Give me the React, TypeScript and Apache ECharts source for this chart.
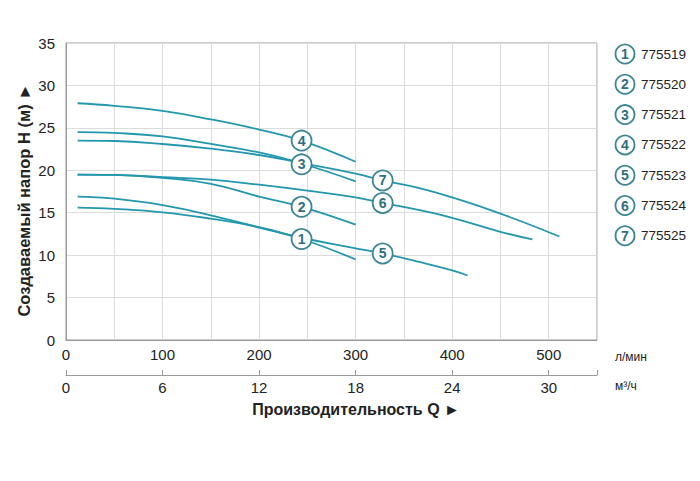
import React, { useEffect, useRef } from "react";
import * as echarts from "echarts";

// Flow Q (l/min) and head H (m) for each pump model
const models = ["775519", "775520", "775521", "775522", "775523", "775524", "775525"];
const curveIds = ["1", "2", "3", "4", "5", "6", "7"];

const q1 = [12, 50, 100, 150, 200, 244, 300];
const h1 = [16.9, 16.65, 15.9, 14.7, 13.25, 11.9, 9.5];
const q2 = [12, 50, 100, 150, 200, 244, 300];
const h2 = [19.5, 19.45, 19.1, 18.4, 16.9, 15.7, 13.6];
const q3 = [12, 50, 100, 150, 200, 244, 300];
const h3 = [24.5, 24.4, 24.0, 23.1, 22.1, 20.8, 18.7];
const q4 = [12, 50, 100, 150, 200, 244, 300];
const h4 = [27.9, 27.6, 27.0, 26.0, 24.8, 23.5, 21.0];
const q5 = [12, 50, 100, 150, 200, 244, 300, 328, 366, 400, 416];
const h5 = [15.6, 15.45, 15.05, 14.3, 13.3, 12.05, 10.8, 10.2, 9.2, 8.2, 7.6];
const q6 = [12, 50, 100, 150, 200, 250, 300, 328, 366, 400, 450, 483];
const h6 = [19.5, 19.45, 19.2, 18.9, 18.3, 17.6, 16.8, 16.15, 15.3, 14.4, 12.75, 11.85];
const q7 = [12, 50, 100, 150, 200, 244, 300, 328, 366, 400, 450, 511];
const h7 = [23.5, 23.45, 23.1, 22.55, 21.8, 20.85, 19.6, 18.8, 17.9, 16.8, 14.9, 12.2];

// curve marker positions (Q, H)
const markQ = [244, 244, 244, 244, 328, 328, 328];
const markH = [11.9, 15.7, 20.7, 23.5, 10.2, 16.15, 18.8];

const qs = [q1, q2, q3, q4, q5, q6, q7];
const hs = [h1, h2, h3, h4, h5, h6, h7];

// axis ranges
const lminMax = 550;
const m3hMax = 33;
const hMax = 35;

const LINE = "#2297ae";
const RING = "#3b8594";
const NUM = "#2e6f80";
const FONT = "Liberation Sans, Arial, sans-serif";

export default function App() {
  const ref = useRef<HTMLDivElement>(null);
  useEffect(() => {
    if (!ref.current) return;
    const chart = echarts.init(ref.current, undefined, { renderer: "svg" });
    const series: any[] = qs.map((q, i) => ({
      type: "line",
      name: models[i],
      xAxisIndex: 0,
      smooth: 0.45,
      showSymbol: false,
      symbol: "none",
      lineStyle: { color: LINE, width: 1.8 },
      data: q.map((v, j) => [v, hs[i][j]]),
      markPoint: {
        symbol: "circle",
        symbolSize: 20,
        z: 10,
        itemStyle: { color: "#fff", borderColor: RING, borderWidth: 1.8 },
        label: {
          show: true,
          position: "inside",
          formatter: curveIds[i],
          color: NUM,
          fontSize: 14,
          fontWeight: "bold",
          fontFamily: FONT,
        },
        data: [{ coord: [markQ[i], markH[i]] }],
      },
    }));

    const legend: any[] = [];
    models.forEach((m, i) => {
      const y = 54 + i * 30.3;
      legend.push({
        type: "circle",
        shape: { cx: 625, cy: y, r: 9.5 },
        style: { fill: "#fff", stroke: RING, lineWidth: 1.8 },
      });
      legend.push({
        type: "text",
        x: 625,
        y: y,
        style: {
          text: curveIds[i],
          fill: NUM,
          font: "bold 14px " + FONT,
          textAlign: "center",
          textVerticalAlign: "middle",
        },
      });
      legend.push({
        type: "text",
        x: 641,
        y: y,
        style: {
          text: m,
          fill: "#222",
          font: "13.5px " + FONT,
          textAlign: "left",
          textVerticalAlign: "middle",
        },
      });
    });

    chart.setOption({
      animation: false,
      backgroundColor: "#fff",
      textStyle: { fontFamily: FONT },
      grid: {
        left: 66,
        top: 43,
        right: 103,
        bottom: 141,
        show: true,
        borderColor: "#999",
        borderWidth: 1,
      },
      xAxis: [
        {
          type: "value",
          min: 0,
          max: lminMax,
          interval: 50,
          position: "bottom",
          axisLine: { show: true, lineStyle: { color: "#999" } },
          axisTick: { show: false },
          splitLine: { show: true, lineStyle: { color: "#dcdcdc" } },
          axisLabel: {
            fontSize: 15,
            color: "#222",
            margin: 7,
            formatter: (v: number) => (v % 100 === 0 ? String(v) : ""),
          },
        },
        {
          type: "value",
          min: 0,
          max: m3hMax,
          interval: 6,
          position: "bottom",
          offset: 35,
          axisLine: { show: true, lineStyle: { color: "#999" } },
          axisTick: { show: true, inside: true, length: 5, lineStyle: { color: "#999" } },
          splitLine: { show: false },
          axisLabel: {
            fontSize: 15,
            color: "#222",
            margin: 5,
            formatter: (v: number) => (v % 6 === 0 ? String(v) : ""),
          },
        },
      ],
      yAxis: {
        type: "value",
        min: 0,
        max: hMax,
        interval: 5,
        axisLine: { show: true, lineStyle: { color: "#999" } },
        axisTick: { show: false },
        splitLine: { show: true, lineStyle: { color: "#dcdcdc" } },
        axisLabel: { fontSize: 15, color: "#222", margin: 11 },
      },
      series,
      graphic: [
        ...legend,
        {
          type: "text",
          x: 615,
          y: 357,
          style: {
            text: "л/мин",
            fill: "#222",
            font: "12px " + FONT,
            textVerticalAlign: "middle",
          },
        },
        {
          type: "text",
          x: 615,
          y: 386,
          style: {
            text: "м³/ч",
            fill: "#222",
            font: "12px " + FONT,
            textVerticalAlign: "middle",
          },
        },
        {
          type: "text",
          x: 356,
          y: 409,
          style: {
            text: "Производительность Q ►",
            fill: "#222",
            font: "bold 16px " + FONT,
            textAlign: "center",
            textVerticalAlign: "middle",
          },
        },
        {
          type: "text",
          x: 24,
          y: 200,
          rotation: Math.PI / 2,
          style: {
            text: "Создаваемый напор H (м) ►",
            fill: "#222",
            font: "bold 16.5px " + FONT,
            textAlign: "center",
            textVerticalAlign: "middle",
          },
        },
      ],
    });
    return () => chart.dispose();
  }, []);
  return (
    <div
      ref={ref}
      style={{ position: "absolute", left: 0, top: 0, width: 700, height: 481 }}
    />
  );
}
